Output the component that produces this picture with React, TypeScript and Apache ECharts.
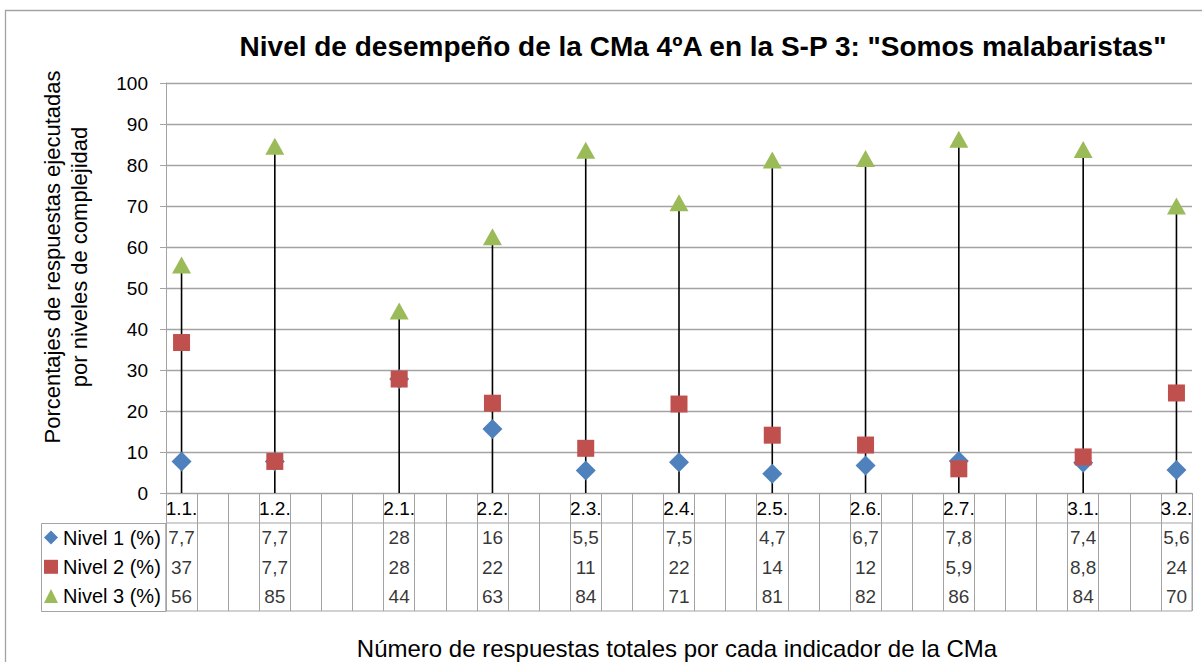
import React, { useEffect, useRef } from "react";
import * as echarts from "echarts";

// Table columns (empty columns exist in the source chart)
const columns = [
  "1.1.", "", "", "1.2.", "", "", "", "2.1.", "", "", "2.2.", "", "", "2.3.", "", "",
  "2.4.", "", "", "2.5.", "", "", "2.6.", "", "", "2.7.", "", "", "", "3.1.", "", "", "3.2.",
];
const indicators = ["1.1.", "1.2.", "2.1.", "2.2.", "2.3.", "2.4.", "2.5.", "2.6.", "2.7.", "3.1.", "3.2."];
const nivel1 = [7.7, 7.7, 27.8, 15.6, 5.5, 7.5, 4.7, 6.7, 7.8, 7.4, 5.6];
const nivel2 = [36.7, 7.7, 27.8, 21.9, 10.9, 21.7, 14.1, 11.7, 5.9, 8.8, 24.4];
const nivel3 = [55.6, 84.6, 44.4, 62.5, 83.6, 70.8, 81.2, 81.6, 86.3, 83.8, 70.0];
const seriesNames = ["Nivel 1 (%)", "Nivel 2 (%)", "Nivel 3 (%)"];
const yTicks = { min: 0, max: 100, interval: 10 };

const titleText = 'Nivel de desempeño de la CMa 4ºA en la S-P 3: "Somos malabaristas"';
const yTitle = "Porcentajes de respuestas ejecutadas\npor niveles de complejidad";
const xTitle = "Número de respuestas totales por cada indicador de la CMa";

const FONT = "'Liberation Sans', Arial, sans-serif";
const GRAY = "#a3a3a3";

const fmt = (v: number) => v.toPrecision(2).replace(".", ",");
const toColumns = (vals: number[]) =>
  columns.map((c) => {
    const k = indicators.indexOf(c);
    return k < 0 || c === "" ? null : vals[k];
  });

export default function App() {
  const ref = useRef<HTMLDivElement>(null);
  useEffect(() => {
    if (!ref.current) return;
    const chart = echarts.init(ref.current, undefined, { renderer: "svg" });
    const levels = [nivel1, nivel2, nivel3].map(toColumns);
    const dropData = columns.map((_, i) => {
      const vs = levels.map((l) => l[i]).filter((v) => v != null) as number[];
      return vs.length ? Math.max(...vs) : null;
    });
    const tableData: any[] = [];
    levels.forEach((l, r) => {
      l.forEach((v, i) => {
        if (v != null) tableData.push([i, r, v]);
      });
    });
    const symbols = [
      { symbol: "diamond", size: [20, 20], color: "#4f81bd" },
      { symbol: "rect", size: [17, 17], color: "#c0504d" },
      { symbol: "triangle", size: [19, 17], color: "#9bbb59" },
    ];
    chart.setOption({
      animation: false,
      textStyle: { fontFamily: FONT },
      grid: [
        { left: 166, right: 10, top: 83, height: 410 },
        { left: 166, right: 10, top: 523, height: 88, show: true, borderColor: GRAY, borderWidth: 1 },
      ],
      xAxis: [
        {
          type: "category",
          gridIndex: 0,
          data: columns,
          axisLine: { lineStyle: { color: GRAY, width: 1 } },
          axisTick: { show: true, interval: 0, length: 30, lineStyle: { color: GRAY } },
          axisLabel: {
            interval: 0,
            fontSize: 19,
            color: "#000",
            margin: 15,
            verticalAlign: "middle",
            fontFamily: FONT,
          },
          splitLine: { show: false },
        },
        {
          type: "category",
          gridIndex: 1,
          data: columns,
          axisLine: { show: false },
          axisTick: { show: false },
          axisLabel: { show: false },
          splitLine: { show: true, interval: 0, lineStyle: { color: GRAY } },
        },
      ],
      yAxis: [
        {
          type: "value",
          gridIndex: 0,
          ...yTicks,
          axisLine: { show: true, lineStyle: { color: GRAY } },
          axisTick: { show: true, length: 6, lineStyle: { color: GRAY } },
          axisLabel: { fontSize: 19, color: "#000", margin: 18, fontFamily: FONT },
          splitLine: { lineStyle: { color: GRAY, width: 1.3 } },
        },
        {
          type: "category",
          gridIndex: 1,
          data: seriesNames,
          inverse: true,
          show: false,
        },
      ],
      legend: {
        data: seriesNames,
        orient: "vertical",
        left: 44,
        top: 526.5,
        padding: 0,
        itemGap: 7.3,
        itemWidth: 14,
        itemHeight: 14,
        selectedMode: false,
        textStyle: { fontSize: 20, color: "#000", lineHeight: 22, fontFamily: FONT },
      },
      series: [
        {
          type: "bar",
          name: "drop",
          xAxisIndex: 0,
          yAxisIndex: 0,
          data: dropData,
          barWidth: 1.6,
          itemStyle: { color: "#000" },
          silent: true,
          z: 1,
        },
        ...symbols.map((s, k) => ({
          type: "scatter",
          name: seriesNames[k],
          xAxisIndex: 0,
          yAxisIndex: 0,
          data: levels[k],
          symbol: s.symbol,
          symbolSize: s.size,
          itemStyle: { color: s.color, opacity: 1 },
          z: 3 + k,
        })),
        {
          type: "scatter",
          name: "tabla",
          xAxisIndex: 1,
          yAxisIndex: 1,
          data: tableData,
          symbolSize: 1,
          itemStyle: { color: "rgba(0,0,0,0)" },
          silent: true,
          label: {
            show: true,
            position: "inside",
            formatter: (p: any) => fmt(p.value[2]),
            fontSize: 19,
            color: "#000",
            fontFamily: FONT,
          },
        },
      ],
      graphic: [
        {
          type: "rect",
          shape: { x: 5.5, y: 10.5, width: 1300, height: 700 },
          style: { fill: "none", stroke: GRAY, lineWidth: 1.3 },
          silent: true,
        },
        {
          type: "rect",
          shape: { x: 41.5, y: 523.5, width: 124.5, height: 88 },
          style: { fill: "none", stroke: GRAY, lineWidth: 1 },
          silent: true,
        },
        {
          type: "text",
          x: 703,
          y: 46,
          style: {
            text: titleText,
            fontSize: 28,
            fontWeight: "bold",
            fontFamily: FONT,
            fill: "#000",
            align: "center",
            verticalAlign: "middle",
          },
        },
        {
          type: "text",
          x: 66,
          y: 257,
          rotation: Math.PI / 2,
          style: {
            text: yTitle,
            fontSize: 22,
            lineHeight: 27,
            fontFamily: FONT,
            fill: "#000",
            align: "center",
            verticalAlign: "middle",
          },
        },
        {
          type: "text",
          x: 677,
          y: 648,
          style: {
            text: xTitle,
            fontSize: 24,
            fontFamily: FONT,
            fill: "#000",
            align: "center",
            verticalAlign: "middle",
          },
        },
      ],
    });
    return () => chart.dispose();
  }, []);
  return (
    <div
      ref={ref}
      style={{ position: "absolute", left: 0, top: 0, width: 1202, height: 662, background: "#fff" }}
    />
  );
}
